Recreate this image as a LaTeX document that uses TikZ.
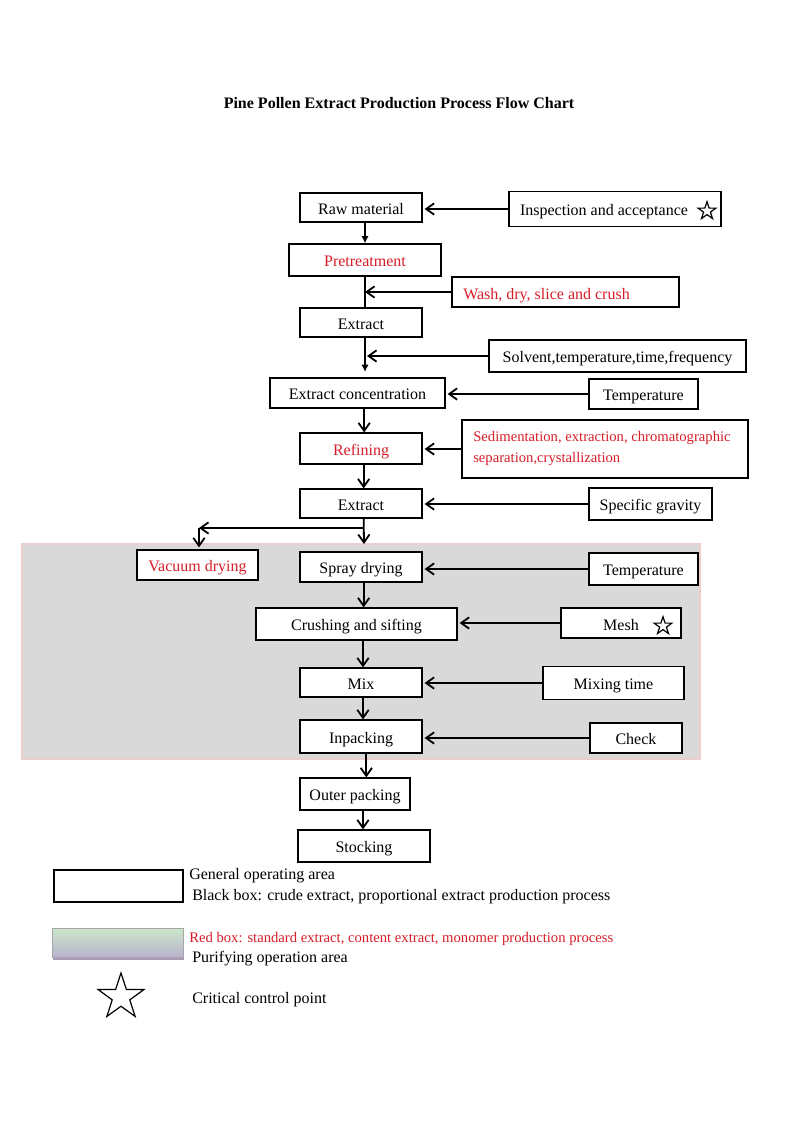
\documentclass[tikz,border=0pt]{standalone}
\usepackage{fontspec}
\setmainfont{Liberation Serif}
\usetikzlibrary{arrows.meta,shapes.geometric,shadows}
\definecolor{redtxt}{RGB}{215,30,40}
\definecolor{grayarea}{RGB}{217,217,217}
\definecolor{pinkedge}{RGB}{236,205,205}
\definecolor{lgtop}{RGB}{202,230,202}
\definecolor{lgbot}{RGB}{185,178,204}
\definecolor{lgshadow}{RGB}{150,130,170}
\begin{document}
\begin{tikzpicture}[x=0.75pt,y=-0.75pt,
  bx/.style 2 args={draw, line width=0.9pt, minimum width=#1*0.75pt, minimum height=#2*0.75pt, inner sep=0pt, fill=white, text height=10pt, text depth=0pt, font=\fontsize{12}{14}\selectfont},
  txt/.style={inner sep=0pt, text height=10pt, text depth=0pt, font=\fontsize{12}{14}\selectfont},
  lgt/.style={inner sep=0pt, anchor=west, font=\fontsize{12}{14}\selectfont},
  arr/.style={line width=1.35pt, -{Straight Barb[length=6pt,width=8.5pt]}},
  arrf/.style={line width=1.35pt, -{Latex[length=5.5pt,width=5.5pt]}},
  ln/.style={line width=1.35pt},
  rt/.style={text=redtxt},
  cstar/.style={star, star points=5, star point ratio=2.6, draw, line width=0.9pt, inner sep=0pt, minimum size=#1}]
\useasboundingbox[fill=white] (0,0) rectangle (800,1131);

\node[font=\bfseries\fontsize{12}{14}\selectfont] (title) at (399,103) {Pine Pollen Extract Production Process Flow Chart};

% purifying area
\node[draw=pinkedge, fill=grayarea, line width=0.8pt, minimum width=678*0.75pt, minimum height=215*0.75pt, inner sep=0pt] (purify) at (361,651.5) {};

% main chain
\node[bx={122}{29}] (raw) at (361,207.5) {Raw material};
\node[bx={152}{32}, rt] (pre) at (365,260) {Pretreatment};
\node[bx={122}{29}] (ext1) at (361,322.5) {Extract};
\node[bx={175}{30}] (conc) at (357.5,393) {Extract concentration};
\node[bx={122}{31}, rt] (ref) at (361,448.5) {Refining};
\node[bx={122}{29}] (ext2) at (361,503.5) {Extract};
\node[bx={121}{30}, rt] (vac) at (197.5,565) {Vacuum drying};
\node[bx={122}{30}] (spray) at (361,567) {Spray drying};
\node[bx={201}{32}] (crush) at (356.5,624) {Crushing and sifting};
\node[bx={122}{29}] (mix) at (361,682.5) {Mix};
\node[bx={122}{33}] (inp) at (361,736.5) {Inpacking};
\node[bx={110}{32}] (outer) at (355,794) {Outer packing};
\node[bx={132}{32}] (stock) at (364,846) {Stocking};

% side boxes
\node[bx={212}{35}] (insp) at (615,209) {};
\node[txt] (insptxt) at (604,209) {Inspection and acceptance};
\node[cstar=14pt] (star1) at (707,211) {};
\node[bx={227}{30}] (wash) at (565.5,292) {};
\node[txt, rt, anchor=west] (washtxt) at (463,293) {Wash, dry, slice and crush};
\node[bx={257}{32}] (solv) at (617.5,356) {Solvent,temperature,time,frequency};
\node[bx={109}{30}] (temp1) at (643.5,394) {Temperature};
\node[bx={286}{58}] (sed) at (605,449) {};
\node[inner sep=0pt, anchor=north west, align=left, text=redtxt, font=\fontsize{11}{15.75}\selectfont] (sedtxt) at (473,431) {Sedimentation, extraction, chromatographic\\separation,crystallization};
\node[bx={123}{32}] (sg) at (650.5,504) {Specific gravity};
\node[bx={109}{32}] (temp2) at (643.5,569) {Temperature};
\node[bx={120}{30}] (mesh) at (621,623) {};
\node[txt] (meshtxt) at (621,624) {Mesh};
\node[cstar=14pt] (star2) at (663,626) {};
\node[bx={141}{33}] (mixt) at (613.5,683) {Mixing time};
\node[bx={92}{30}] (check) at (636,738) {Check};

% connectors
\draw[arr, shorten >=1.5pt] (insp.west) -- (insp.west -| raw.east);
\draw[arrf] ([xshift=3pt]raw.south) -- ([xshift=3pt]raw.south |- pre.north);
\draw[ln] (pre.south) -- (pre.south |- ext1.north);
\draw[arr] (wash.west) -- (wash.west -| pre.south);
\coordinate (c1) at (365,372);
\draw[arrf] ([xshift=3pt]ext1.south) -- (c1);
\draw[arr, shorten >=1.5pt] (solv.west) -- (solv.west -| c1);
\draw[arr] ([xshift=5pt]conc.south) -- ([xshift=5pt]conc.south |- ref.north);
\draw[arr, shorten >=1.5pt] (temp1.west) -- (temp1.west -| conc.east);
\draw[arr, shorten >=1.5pt] (sed.west) -- (sed.west -| ref.east);
\draw[arr] ([xshift=2pt]ref.south) -- ([xshift=2pt]ref.south |- ext2.north);
\draw[arr, shorten >=1.5pt] (sg.west) -- (sg.west -| ext2.east);
\coordinate (br) at (364,528);
\coordinate (c2) at (364,544);
\coordinate (c3) at (199,528);
\draw[arr] ([xshift=2pt]ext2.south) -- (c2);
\draw[arr] (br) -- (c3);
\draw[arr, shorten >=1.5pt] (c3) -- (c3 |- vac.north);
\draw[arr, shorten >=1.5pt] (temp2.west) -- (temp2.west -| spray.east);
\draw[arr] ([xshift=2pt]spray.south) -- ([xshift=2pt]spray.south |- crush.north);
\draw[arr, shorten >=1.5pt] (mesh.west) -- (mesh.west -| crush.east);
\draw[arr] ([xshift=1.5pt]mix.north |- crush.south) -- ([xshift=1.5pt]mix.north);
\draw[arr, shorten >=1.5pt] (mixt.west) -- (mixt.west -| mix.east);
\draw[arr] ([xshift=1.5pt]mix.south) -- ([xshift=1.5pt]inp.north);
\draw[arr, shorten >=1.5pt] (check.west) -- (check.west -| inp.east);
\draw[arr] ([xshift=4pt]inp.south) -- ([xshift=4pt]inp.south |- outer.north);
\draw[arr] ([xshift=6pt]outer.south) -- ([xshift=6pt]outer.south |- stock.north);

% legend
\node[draw, line width=1.6pt, minimum width=129*0.75pt, minimum height=32*0.75pt, inner sep=0pt] (lg1) at (118.5,886) {};
\node[lgt] (lg1a) at (189,876) {General operating area};
\node[lgt] (lg1b) at (192,897) {Black box: crude extract, proportional extract production process};
\node[draw=gray!70, line width=0.6pt, top color=lgtop, bottom color=lgbot, minimum width=131*0.75pt, minimum height=29*0.75pt, inner sep=0pt, drop shadow={shadow xshift=0.8pt, shadow yshift=-1.5pt, fill=lgshadow, opacity=0.8}] (lg2) at (117.5,943) {};
\node[lgt, rt, font=\fontsize{11}{13}\selectfont] (lg2a) at (189,939) {Red box: standard extract, content extract, monomer production process};
\node[lgt] (lg2b) at (192,959) {Purifying operation area};
\node[cstar=36pt] (lg3) at (121,997) {};
\node[lgt] (lg3a) at (192,1000) {Critical control point};
\end{tikzpicture}
\end{document}
